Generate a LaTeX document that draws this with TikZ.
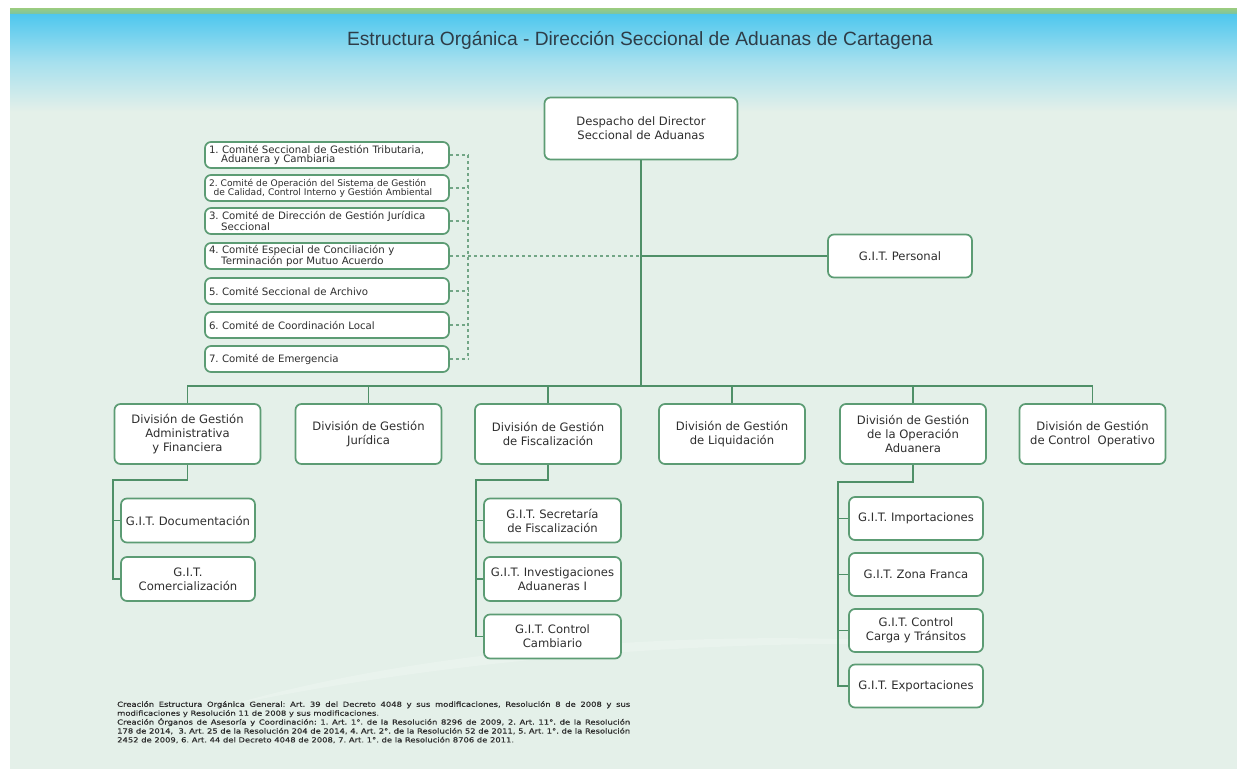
\documentclass[tikz,border=0pt]{standalone}
\usepackage{fontspec}
\setmainfont{DejaVu Sans}
\newfontfamily\titlefont{Liberation Sans}
\newfontfamily\footfont[FakeStretch=1.2, FakeBold=0.6]{DejaVu Sans}
\frenchspacing
\definecolor{bgmint}{HTML}{E4F0E9}
\definecolor{skyblue}{HTML}{4EC7EE}
\definecolor{midblue}{HTML}{A6E0EE}
\definecolor{bandgreen}{HTML}{9CCC7E}
\definecolor{bandlow}{HTML}{78C4A4}
\definecolor{boxgreen}{HTML}{5C9C74}
\definecolor{linegreen}{HTML}{4F9068}
\definecolor{txtgray}{HTML}{2E2E2E}
\definecolor{titlegray}{HTML}{2E3D48}
\newcommand{\fullline}[1]{\hbox to 513pt{#1}}
\begin{document}
\frenchspacing
\begin{tikzpicture}[x=1pt,y=-1pt,
  box/.style={draw=boxgreen, line width=1.7pt, fill=white, rounded corners=6pt,
    align=center, text=txtgray, inner sep=2pt, font=\fontsize{11.6}{14}\selectfont},
  divbox/.style={box, minimum width=146pt, minimum height=60pt},
  gitbox/.style={box, minimum height=44pt},
  combox/.style={box, minimum width=244pt, minimum height=26pt, align=left,
    text width=236pt, inner xsep=4pt, font=\fontsize{10.2}{9.2}\selectfont},
  conn/.style={draw=linegreen, line width=1.8pt},
  dconn/.style={draw=linegreen!80, line width=1.2pt, dash pattern=on 3pt off 3pt}
]
\useasboundingbox (0,0) rectangle (1237,769);
% background
\fill[white] (0,0) rectangle (1237,769);
\fill[bgmint] (10,8) rectangle (1237,769);
\shade[top color=bandgreen, bottom color=bandlow] (10,8) rectangle (1237,14);
\shade[top color=skyblue, bottom color=midblue] (10,14) rectangle (1237,62);
\shade[top color=midblue, bottom color=bgmint] (10,62) rectangle (1237,112);
\fill[white, opacity=0.2] (230,705) .. controls (420,650) and (700,625) .. (960,645)
  .. controls (700,638) and (450,660) .. (230,705) -- cycle;
% title
\node[font=\titlefont\fontsize{19.2}{22}\selectfont, text=titlegray] (title) at (640,40)
  {Estructura Orgánica - Dirección Seccional de Aduanas de Cartagena};
% director
\node[box, minimum width=193pt, minimum height=62pt] (dir) at (641,128.5)
  {Despacho del Director\\Seccional de Aduanas};
% committees
\node[combox] (k1) at (327,155) {1. Comité Seccional de Gestión Tributaria,\\\hspace*{1.2em}Aduanera y Cambiaria};
\node[combox, font=\fontsize{9.1}{9.2}\selectfont] (k2) at (327,188) {2. Comité de Operación del Sistema de Gestión\\\hspace*{0.5em}de Calidad, Control Interno y Gestión Ambiental};
\node[combox] (k3) at (327,221) {3. Comité de Dirección de Gestión Jurídica\\\hspace*{1.2em}Seccional};
\node[combox] (k4) at (327,256) {4. Comité Especial de Conciliación y\\\hspace*{1.2em}Terminación por Mutuo Acuerdo};
\node[combox] (k5) at (327,291) {5. Comité Seccional de Archivo};
\node[combox] (k6) at (327,325) {6. Comité de Coordinación Local};
\node[combox] (k7) at (327,359) {7. Comité de Emergencia};
% G.I.T. Personal
\node[box, minimum width=144pt, minimum height=43pt] (gp) at (900,256) {G.I.T. Personal};
% divisions
\node[divbox] (d1) at (187.5,434) {División de Gestión\\Administrativa\\y Financiera};
\node[divbox] (d2) at (368.5,434) {División de Gestión\\Jurídica};
\node[divbox] (d3) at (548,434) {División de Gestión\\de Fiscalización};
\node[divbox] (d4) at (732,434) {División de Gestión\\de Liquidación};
\node[divbox] (d5) at (913,434) {División de Gestión\\de la Operación\\Aduanera};
\node[divbox] (d6) at (1092.5,434) {División de Gestión\\de Control\ \ Operativo};
% children div 1
\node[gitbox, minimum width=134pt] (c11) at (188,520.5) {G.I.T. Documentación};
\node[gitbox, minimum width=134pt] (c12) at (188,579) {G.I.T.\\Comercialización};
% children div 3
\node[gitbox, minimum width=137pt] (c31) at (552.5,520.5) {G.I.T. Secretaría\\de Fiscalización};
\node[gitbox, minimum width=137pt] (c32) at (552.5,579) {G.I.T. Investigaciones\\Aduaneras I};
\node[gitbox, minimum width=137pt] (c33) at (552.5,636.5) {G.I.T. Control\\Cambiario};
% children div 5
\node[gitbox, minimum width=134pt, minimum height=43pt] (c51) at (916,518.5) {G.I.T. Importaciones};
\node[gitbox, minimum width=134pt, minimum height=43pt] (c52) at (916,574.5) {G.I.T. Zona Franca};
\node[gitbox, minimum width=134pt, minimum height=43pt] (c53) at (916,630.5) {G.I.T. Control\\Carga y Tránsitos};
\node[gitbox, minimum width=134pt, minimum height=43pt] (c54) at (916,686) {G.I.T. Exportaciones};
% footnote
\node[anchor=north west, align=left, inner sep=0pt, text=txtgray,
  font=\footfont\fontsize{7}{8.9}\selectfont] (foot) at (117,701)
  {\fullline{Creación Estructura Orgánica General: Art. 39 del Decreto 4048 y sus modificaciones, Resolución 8 de 2008 y sus}\\
   modificaciones y Resolución 11 de 2008 y sus modificaciones.\\
   \fullline{Creación Órganos de Asesoría y Coordinación: 1. Art. 1°. de la Resolución 8296 de 2009, 2. Art. 11°. de la Resolución}\\
   \fullline{178 de 2014,\ \ 3. Art. 25 de la Resolución 204 de 2014, 4. Art. 2°. de la Resolución 52 de 2011, 5. Art. 1°. de la Resolución}\\
   2452 de 2009, 6. Art. 44 del Decreto 4048 de 2008, 7. Art. 1°. de la Resolución 8706 de 2011.};
% connector coordinates
\coordinate (bus) at (641,386);
\coordinate (kv) at (468,155);
\coordinate (v1) at (113,480);
\coordinate (v3) at (476,480);
\coordinate (v5) at (838,482);
% main trunk and bus
\draw[conn] (dir.south) -- (bus);
\draw[conn] (d1.north) |- (bus) -| (d6.north);
\foreach \d in {d2,d3,d4,d5} \draw[conn] (\d.north) -- (\d.north |- bus);
% GIT Personal
\draw[conn] (dir.south |- gp.west) -- (gp.west);
% committees dashed
\foreach \k in {k1,k2,k3,k4,k5,k6,k7} \draw[dconn] (\k.east) -- (\k.east -| kv);
\draw[dconn] (kv |- k1.east) -- (kv |- k7.east);
\draw[dconn] (kv |- k4.east) -- (dir.south |- k4.east);
% div 1 children
\draw[conn] (d1.south) |- (v1) |- (c12.west);
\draw[conn] (v1 |- c11.west) -- (c11.west);
% div 3 children
\draw[conn] (d3.south) |- (v3) |- (c33.west);
\draw[conn] (v3 |- c31.west) -- (c31.west);
\draw[conn] (v3 |- c32.west) -- (c32.west);
% div 5 children
\draw[conn] (d5.south) |- (v5) |- (c54.west);
\foreach \c in {c51,c52,c53} \draw[conn] (v5 |- \c.west) -- (\c.west);
\end{tikzpicture}
\end{document}
